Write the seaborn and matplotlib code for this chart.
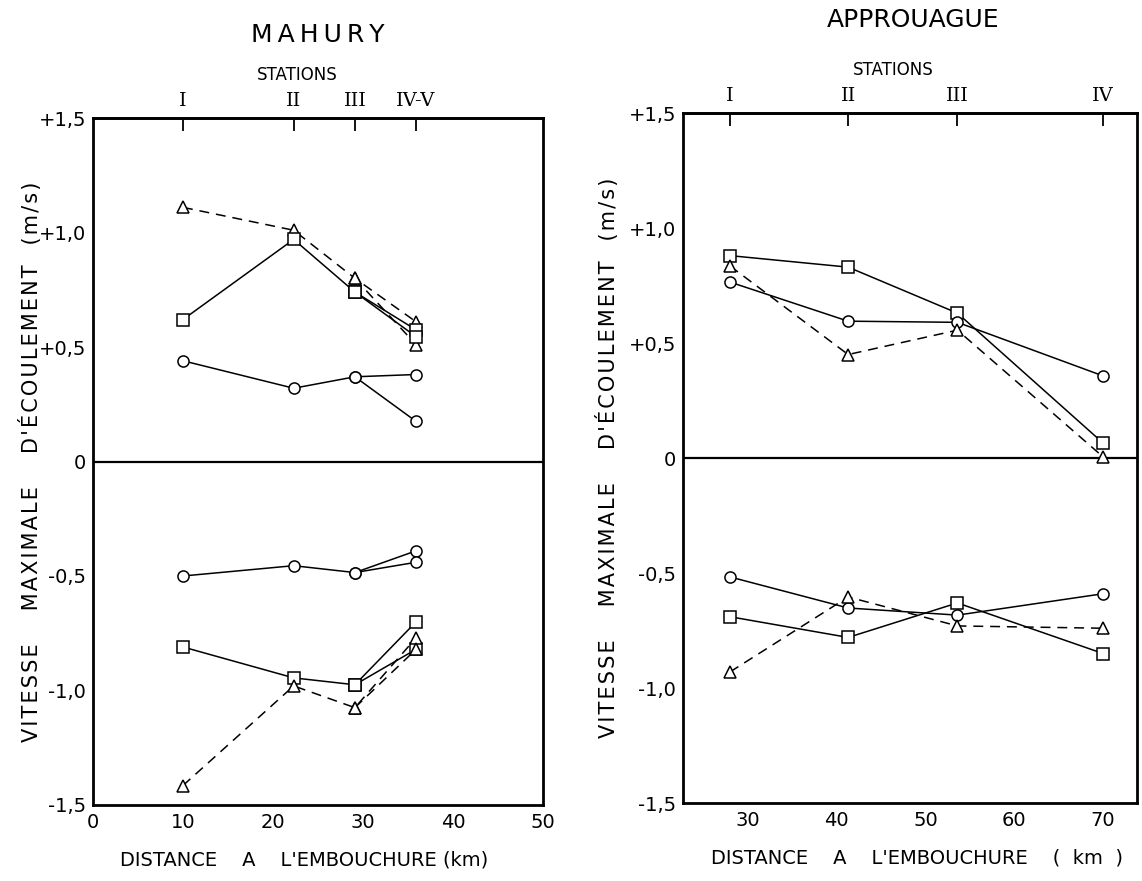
import matplotlib
matplotlib.use("Agg")
import matplotlib.pyplot as plt
import seaborn as sns
import pandas as pd

sns.set_theme(style="white")
plt.rcParams["font.family"] = ["DejaVu Sans"]
plt.rcParams["text.color"] = "black"
plt.rcParams["axes.labelcolor"] = "black"

# ---- MAHURY: stations and their distance from the mouth (km) ----
mah_stations = ["I", "II", "III", "IV", "V"]
mah_dist = [10.0, 22.3, 29.1, 35.9, 35.9]
mah_station_labels = ["I", "II", "III", "IV-V"]
mah_station_ticks = [10.0, 22.3, 29.1, 35.9]

# flood (positive) and ebb (negative) maximum velocities, m/s
mah_flood_tri = [1.11, 1.01, 0.80, 0.61, 0.51]
mah_flood_sq = [0.62, 0.97, 0.74, 0.575, 0.545]
mah_flood_circ = [0.44, 0.32, 0.37, 0.38, 0.175]
mah_ebb_circ = [-0.50, -0.455, -0.485, -0.39, -0.44]
mah_ebb_sq = [-0.81, -0.945, -0.975, -0.70, -0.82]
mah_ebb_tri = [-1.415, -0.98, -1.075, -0.77, -0.82]

# ---- APPROUAGUE ----
app_stations = ["I", "II", "III", "IV"]
app_dist = [28.0, 41.3, 53.6, 70.0]
app_station_labels = ["I", "II", "III", "IV"]

app_flood_sq = [0.88, 0.83, 0.63, 0.065]
app_flood_circ = [0.765, 0.595, 0.59, 0.357]
app_flood_tri = [0.835, 0.45, 0.556, 0.005]
app_ebb_circ = [-0.517, -0.652, -0.683, -0.59]
app_ebb_sq = [-0.69, -0.78, -0.63, -0.85]
app_ebb_tri = [-0.93, -0.604, -0.73, -0.74]

y_ticks = [1.5, 1.0, 0.5, 0.0, -0.5, -1.0, -1.5]
y_tick_labels = ["+1,5", "+1,0", "+0,5", "0", "-0,5", "-1,0", "-1,5"]

YLABEL_WORDS = ["VITESSE", "MAXIMALE", "D'ÉCOULEMENT", "(m/s)"]

DASH = (0, (6.5, 4.5))
MARKER_KW = dict(markerfacecolor="white", markeredgecolor="black",
                 markeredgewidth=1.1, markersize=8)


def tracked(s, sep="\u200a"):
    """Widen the tracking of a caption with hair spaces between letters."""
    return sep.join(s)


YLABEL = "     ".join(tracked(w) for w in YLABEL_WORDS[:3]) + "   " + tracked(YLABEL_WORDS[3])


def draw(ax, dist, values, marker, dashed, branch_v=False):
    """Draw one series; for the Mahury, stations IV and V share one
    distance, so V is reached by its own segment from station III."""
    ls = DASH if dashed else "-"
    n = 4 if branch_v else len(values)
    df = pd.DataFrame({"dist": dist[:n], "v": values[:n]})
    sns.lineplot(data=df, x="dist", y="v", ax=ax, color="black", lw=1.1,
                 linestyle=ls, marker=marker, sort=False, estimator=None,
                 **MARKER_KW)
    if branch_v:
        df2 = pd.DataFrame({"dist": [dist[2], dist[4]], "v": [values[2], values[4]]})
        sns.lineplot(data=df2, x="dist", y="v", ax=ax, color="black", lw=1.1,
                     linestyle=ls, marker=marker, sort=False, estimator=None,
                     **MARKER_KW)


def style_axes(ax, xlim, xticks, st_ticks, st_labels, xlabel, xlabel_x,
               ylabel_x, title, title_xy, st_xy):
    ax.set_xlim(*xlim)
    ax.set_ylim(-1.5, 1.5)
    ax.axhline(0, color="black", lw=1.6, zorder=1)
    ax.set_yticks(y_ticks)
    ax.set_yticklabels(y_tick_labels)
    ax.set_xticks(xticks)
    ax.set_xticklabels([str(t) for t in xticks])
    ax.tick_params(axis="both", direction="in", length=9, width=1.3,
                   labelsize=14, colors="black", pad=6)
    ax.tick_params(axis="y", pad=5)
    for s in ax.spines.values():
        s.set_color("black")
        s.set_linewidth(2.0)
    ax.set_xlabel(xlabel, fontsize=14)
    ax.xaxis.set_label_coords(xlabel_x, -0.066)
    ax.set_ylabel(YLABEL, fontsize=15)
    ax.yaxis.set_label_coords(ylabel_x, 0.5)
    top = ax.secondary_xaxis("top")
    top.set_xticks(st_ticks)
    top.set_xticklabels(st_labels, fontfamily="DejaVu Serif")
    top.tick_params(direction="in", length=9, width=1.3, labelsize=14, pad=6,
                    colors="black")
    top.spines["top"].set_linewidth(2.0)
    ax.text(st_xy[0], st_xy[1], "STATIONS", transform=ax.transAxes,
            ha="center", va="center", fontsize=12)
    ax.text(title_xy[0], title_xy[1], title, transform=ax.transAxes,
            ha="center", va="center", fontsize=18)


fig = plt.figure(figsize=(11.42, 8.81), dpi=100)
ax1 = fig.add_axes([0.0814, 0.0863, 0.3941, 0.7797])
ax2 = fig.add_axes([0.598, 0.0885, 0.3975, 0.7832])

# Mahury
draw(ax1, mah_dist, mah_flood_tri, "^", True, branch_v=True)
draw(ax1, mah_dist, mah_flood_sq, "s", False, branch_v=True)
draw(ax1, mah_dist, mah_flood_circ, "o", False, branch_v=True)
draw(ax1, mah_dist, mah_ebb_circ, "o", False, branch_v=True)
draw(ax1, mah_dist, mah_ebb_sq, "s", False, branch_v=True)
draw(ax1, mah_dist, mah_ebb_tri, "^", True, branch_v=True)
style_axes(ax1, (0, 50), [0, 10, 20, 30, 40, 50], mah_station_ticks,
           mah_station_labels, "DISTANCE    A    L'EMBOUCHURE (km)", 0.47,
           -0.113, tracked("MAHURY", "\u2009"), (0.5, 1.121), (0.455, 1.062))

# Approuague
draw(ax2, app_dist, app_flood_sq, "s", False)
draw(ax2, app_dist, app_flood_circ, "o", False)
draw(ax2, app_dist, app_flood_tri, "^", True)
draw(ax2, app_dist, app_ebb_circ, "o", False)
draw(ax2, app_dist, app_ebb_sq, "s", False)
draw(ax2, app_dist, app_ebb_tri, "^", True)
style_axes(ax2, (22.7, 73.8), [30, 40, 50, 60, 70], app_dist,
           app_station_labels, "DISTANCE    A    L'EMBOUCHURE    (  km  )", 0.516,
           -0.14, "APPROUAGUE", (0.508, 1.135), (0.464, 1.062))

fig.savefig("out.png", dpi=100, facecolor="white")
